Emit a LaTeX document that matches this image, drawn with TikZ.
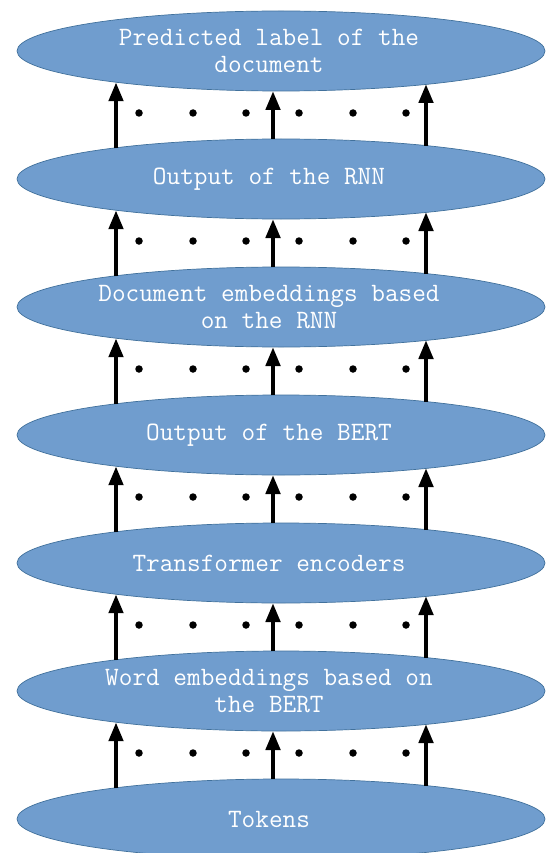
\documentclass[tikz,border=0pt]{standalone}
\usepackage{fontspec}
\usetikzlibrary{shapes.geometric,arrows.meta,calc}
\definecolor{layerfill}{RGB}{112,157,206}
\definecolor{layeredge}{RGB}{65,113,156}
\tikzset{
  layer/.style={ellipse, draw=layeredge, line width=0.7pt, fill=layerfill,
    minimum width=528pt, minimum height=80pt, inner sep=0pt, outer sep=0pt},
  caption/.style={text=white, align=center, inner sep=0pt,
    font=\ttfamily\fontsize{26.5}{27}\selectfont},
  flow/.style={line width=4.5pt, -{Triangle[width=14pt,length=19pt]}},
  gapdot/.style={circle, fill=black, inner sep=0pt, minimum size=7.5pt}
}
\begin{document}
\begin{tikzpicture}[x=1pt,y=-1pt]
\useasboundingbox (0,0) rectangle (546,853);
\clip (0,0) rectangle (546,853);
\fill[white] (0,0) rectangle (546,853);

% layers, bottom (l0) to top (l6)
\foreach \n/\y in {l6/51,l5/179,l4/307,l3/435,l2/563,l1/691,l0/819}
  \node[layer] (\n) at (281,\y) {};

\node[caption] (t6) at ($(l6.center)+(-12,0)$) {Predicted label of the\\document};
\node[caption] (t5) at ($(l5.center)+(-12,0)$) {Output of the RNN};
\node[caption] (t4) at ($(l4.center)+(-12,0)$) {Document embeddings based\\on the RNN};
\node[caption] (t3) at ($(l3.center)+(-12,0)$) {Output of the BERT};
\node[caption] (t2) at ($(l2.center)+(-12,0)$) {Transformer encoders};
\node[caption] (t1) at ($(l1.center)+(-12,0)$) {Word embeddings based on\\the BERT};
\node[caption] (t0) at ($(l0.center)+(-12,0)$) {Tokens};

% arrows between consecutive layers, ending on the ellipse borders
\foreach \lo/\hi in {l0/l1,l1/l2,l2/l3,l3/l4,l4/l5,l5/l6}{
  \draw[flow] ($(\lo.center)+(-165,-31.2)$) -- ($(\hi.center)+(-165,31.2)$);
  \draw[flow] ($(\lo.center)+(-8,-40)$) -- ($(\hi.center)+(-8,40)$);
  \draw[flow] ($(\lo.center)+(145,-33)$) -- ($(\hi.center)+(145,33)$);
  \foreach \dx [count=\k] in {-142,-88,-35,18,72,125}
    \node[gapdot] (d-\lo-\k) at ($(\hi.center)+(\dx,62)$) {};
}
\end{tikzpicture}
\end{document}
